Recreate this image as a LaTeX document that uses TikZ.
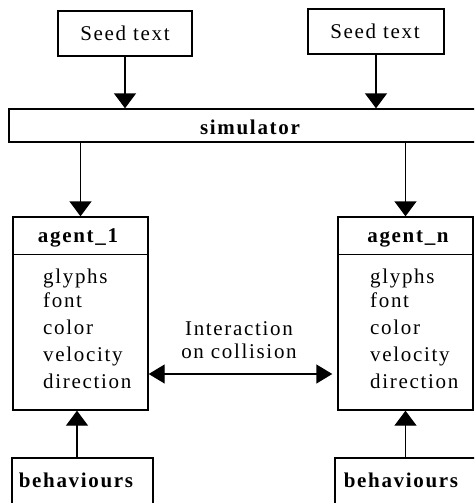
\documentclass[tikz,border=0pt]{standalone}
\usepackage{fontspec}
\setmainfont{Liberation Serif}[LetterSpace=8]
\usetikzlibrary{arrows.meta}
\tikzset{
  txt/.style={font=\fontsize{21}{25}\selectfont, inner sep=0pt, text=black},
  btxt/.style={font=\fontsize{21}{25}\selectfont\bfseries, inner sep=0pt, text=black},
  boxx/.style={draw=black, line width=1.4pt, inner sep=0pt, rectangle},
  arr/.style={line width=1.4pt, -{Triangle[length=15pt,width=22pt]}},
  darr/.style={line width=1.4pt, {Triangle[length=16pt,width=19pt]}-{Triangle[length=16pt,width=19pt]}}
}
\begin{document}
\begin{tikzpicture}[x=1pt,y=-1pt]
\useasboundingbox (0,0) rectangle (474,503);
\clip (0,0) rectangle (474,503);
% seed boxes
\node[boxx, minimum width=134pt, minimum height=45pt] (seed1) at (125,33.5) {};
\node[txt, anchor=base] (seed1t) at (125,41) {Seed text};
\node[boxx, minimum width=136pt, minimum height=45pt] (seed2) at (376,31.5) {};
\node[txt, anchor=base] (seed2t) at (375,39) {Seed text};
% simulator
\node[boxx, minimum width=482pt, minimum height=33pt] (sim) at (250,125.5) {};
\node[btxt, anchor=base] (simt) at (250,134) {simulator};
% agents
\node[boxx, minimum width=135pt, minimum height=193pt] (ag1) at (80.5,313.5) {};
\node[boxx, minimum width=135pt, minimum height=193pt] (agn) at (405.5,313.5) {};
\draw[line width=1.4pt] ([yshift=-38pt]ag1.north west) -- ([yshift=-38pt]ag1.north east);
\draw[line width=1.4pt] ([yshift=-38pt]agn.north west) -- ([yshift=-38pt]agn.north east);
\node[btxt, anchor=base] (ag1h) at (78,242) {agent\_1};
\node[btxt, anchor=base] (agnh) at (408,242) {agent\_n};
\foreach \t/\y [count=\i] in {glyphs/283, font/307, color/334, velocity/361, direction/388}{
  \node[txt, anchor=base west] (a1l\i) at (43,\y) {\t};
  \node[txt, anchor=base west] (anl\i) at (370,\y) {\t};
}
% behaviours
\node[boxx, minimum width=141pt, minimum height=62pt] (beh1) at (82.5,489) {};
\node[btxt, anchor=base] (beh1t) at (76,487) {behaviours};
\node[boxx, minimum width=145pt, minimum height=62pt] (behn) at (407.5,489) {};
\node[btxt, anchor=base] (behnt) at (401,487) {behaviours};
% interaction label
\node[txt, anchor=base] (int1) at (239,335) {Interaction};
\node[txt, anchor=base] (int2) at (239,358) {on collision};
% connectors
\coordinate (xl) at (77,0);
\coordinate (yi) at (0,374);
\draw[arr] (seed1.south) -- (seed1.south |- sim.north);
\draw[arr] (seed2.south) -- (seed2.south |- sim.north);
\draw[arr] (ag1.north |- sim.south) -- (ag1.north);
\draw[arr] (agn.north |- sim.south) -- (agn.north);
\draw[arr] (beh1.north -| xl) -- (ag1.south -| xl);
\draw[arr] (behn.north -| agn.south) -- (agn.south);
\draw[darr] (ag1.east |- yi) -- ([xshift=-5pt]agn.west |- yi);
\end{tikzpicture}
\end{document}
